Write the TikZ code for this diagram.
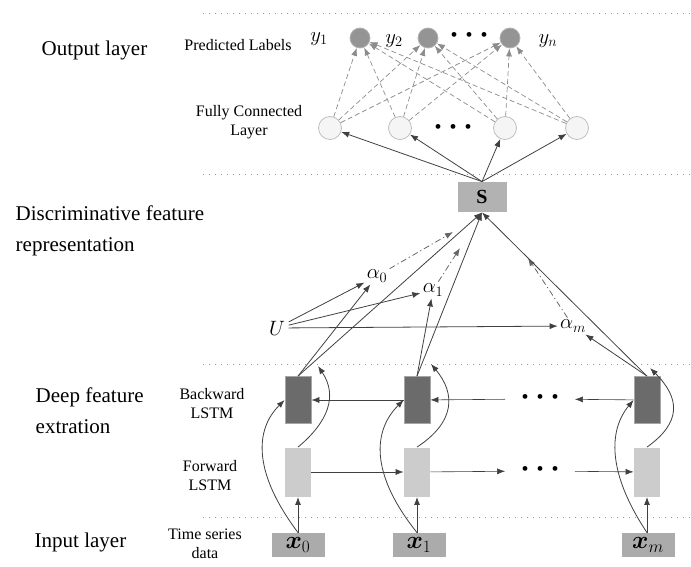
\documentclass[tikz,border=0pt]{standalone}
\usepackage{fontspec}
\setmainfont{Liberation Serif}
\usepackage{amsmath,amssymb,bm}
\usetikzlibrary{arrows.meta, positioning, calc}
\newcommand{\tdots}{\textbullet\hspace{8pt}\textbullet\hspace{8pt}\textbullet}

\begin{document}
\begin{tikzpicture}[>={Latex[length=8pt,width=6pt]}, x=1pt, y=-1pt, line width=0.8pt,
  conn/.style={->, draw=black!75},
  fcl/.style={->, draw=black!45, dash pattern=on 5pt off 3pt, line width=0.7pt},
  att/.style={->, draw=black!60, dash pattern=on 6pt off 3pt on 1.2pt off 3pt},
  sep/.style={draw=black!40, dash pattern=on 1.2pt off 4.8pt, line width=1pt},
  bigl/.style={font=\fontsize{21}{31}\selectfont, align=left, anchor=west},
  smalll/.style={font=\fontsize{16}{19}\selectfont, align=center},
  predc/.style={circle, fill=black!42, draw=black!30, minimum size=20pt, inner sep=0pt},
  fcc/.style={circle, fill=black!4, draw=black!25, minimum size=23pt, inner sep=0pt},
  bwd/.style={rectangle, fill=black!58, draw=black!35, minimum width=26pt, minimum height=47pt, inner sep=0pt},
  fwd/.style={rectangle, fill=black!20, minimum width=26pt, minimum height=49pt, inner sep=0pt},
  inp/.style={rectangle, fill=black!33, minimum width=53pt, minimum height=24pt, inner sep=0pt, font=\fontsize{26}{26}\selectfont},
  dotsn/.style={font=\fontsize{20}{20}\selectfont, inner xsep=16pt, inner ysep=2pt},
  mlab/.style={font=\fontsize{20}{20}\selectfont, inner sep=2pt}]
  \useasboundingbox (0,0) rectangle (691,567);

  % layer separators
  \draw[sep] (203,14) -- (690,14);
  \draw[sep] (203,175) -- (690,175);
  \draw[sep] (203,364) -- (690,364);
  \draw[sep] (203,517) -- (690,517);

  % layer names
  \node[bigl] (outL) at (38,50) {Output layer};
  \node[bigl] (disL) at (12,231) {Discriminative feature\\representation};
  \node[bigl] (deepL) at (32,411) {Deep feature\\extration};
  \node[bigl] (inL) at (31,542) {Input layer};
  \node[smalll] (predT) at (238,45) {Predicted Labels};
  \node[smalll] (fcT) at (249,122) {Fully Connected\\Layer};
  \node[smalll] (bwT) at (212,404) {Backward\\LSTM};
  \node[smalll] (fwT) at (210,476) {Forward\\LSTM};
  \node[smalll] (tsT) at (205,544) {Time series\\data};

  % output layer
  \node[predc] (p1) at (360,38) {};
  \node[predc] (p2) at (428,38) {};
  \node[predc] (pn) at (510,38) {};
  \node[mlab] (y1) at (319,39) {$y_1$};
  \node[mlab] (y2) at (394,41) {$y_2$};
  \node[mlab] (yn) at (548,41) {$y_n$};
  \node[dotsn] (pdots) at (469,37) {\tdots};
  \node[fcc] (f1) at (330,128) {};
  \node[fcc] (f2) at (400,128) {};
  \node[fcc] (f3) at (505,128) {};
  \node[fcc] (f4) at (577,128) {};
  \node[dotsn] (fdots) at (453,129) {\tdots};
  \foreach \a in {f1,f2,f3,f4}
    \foreach \b in {p1,p2,pn}
      \draw[fcl] (\a) -- (\b);

  % attention
  \node[rectangle, fill=black!30, minimum width=49pt, minimum height=30pt, inner sep=0pt,
        font=\bfseries\fontsize{20}{20}\selectfont] (S) at (482,197) {S};
  \foreach \a in {f1,f2,f3,f4}
    \draw[conn] (S.north) -- (\a);
  \node[font=\fontsize{21}{21}\selectfont] (U) at (277,328) {$U$};
  \node[mlab] (a0) at (377,276) {$\alpha_0$};
  \node[mlab] (a1) at (433,290) {$\alpha_1$};
  \node[mlab] (am) at (573,326) {$\alpha_m$};
  \coordinate (a0e) at (453,232);
  \coordinate (a1e) at (460,248);
  \coordinate (ame) at (528,258);
  \draw[conn] (U) -- (a0);
  \draw[conn] (U) -- (a1);
  \draw[conn] (U) -- (am);
  \draw[att] (a0) -- (a0e);
  \draw[att] (a1) -- (a1e);
  \draw[att] (am) -- (ame);

  % bi-LSTM
  \node[bwd] (b0) at (298,400) {};
  \node[bwd] (b1) at (417,400) {};
  \node[bwd] (bm) at (647,400) {};
  \node[fwd] (w0) at (298,472) {};
  \node[fwd] (w1) at (417,472) {};
  \node[fwd] (wm) at (647,472) {};
  \node[dotsn] (bdots) at (540,399) {\tdots};
  \node[dotsn] (wdots) at (540,471) {\tdots};
  \node[inp] (x0) at (298,545) {$\boldsymbol{x}_0$};
  \node[inp] (x1) at (419,545) {$\boldsymbol{x}_1$};
  \node[inp] (xm) at (648,545) {$\boldsymbol{x}_m$};
  \coordinate (j0) at (318,366);
  \coordinate (j1) at (431,364);
  \coordinate (jm) at (650,368);

  \draw[conn] (b0.north) -- (a0);
  \draw[conn] (b0.north) -- (S.south);
  \draw[conn] (b1.north) -- (a1);
  \draw[conn] (b1.north) -- (S.south);
  \draw[conn] (bm.north) -- (am);
  \draw[conn] (bm.north) -- (S.south);

  \draw[conn, line width=0.6pt] (w0) -- (w1);
  \draw[conn, line width=0.6pt] (w1) -- (wdots);
  \draw[conn, line width=0.6pt] (wdots) -- (wm);
  \draw[conn, line width=0.6pt] (b1) -- (b0);
  \draw[conn, line width=0.6pt] (bdots) -- (b1);
  \draw[conn, line width=0.6pt] (bm) -- (bdots);

  \draw[conn, line width=1pt] (x0.north) -- (w0.south);
  \draw[conn, line width=1pt] (x1.north-|w1) -- (w1.south);
  \draw[conn, line width=1pt] (xm.north-|wm) -- (wm.south);

  \draw[conn] (x0.north) .. controls +(-45,-60) and +(-30,30) .. (b0.west);
  \draw[conn] (x1.north-|w1) .. controls +(-48,-60) and +(-30,30) .. (b1.west);
  \draw[conn] (xm.north-|wm) .. controls +(-40,-60) and +(-25,30) .. (bm.west);
  \draw[conn] (w0.north) .. controls +(30,-25) and +(20,30) .. (j0);
  \draw[conn] (w1.north) .. controls +(38,-25) and +(25,30) .. (j1);
  \draw[conn] (wm.north) .. controls +(35,-25) and +(30,30) .. (jm);
\end{tikzpicture}
\end{document}
